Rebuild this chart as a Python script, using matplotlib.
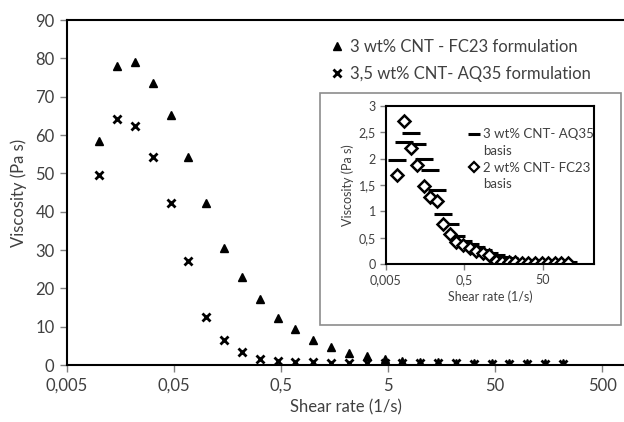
import matplotlib
matplotlib.use("Agg")
import matplotlib.pyplot as plt
from matplotlib.patches import Rectangle
from matplotlib.lines import Line2D

plt.rcParams['font.family'] = ['Lato', 'DejaVu Sans']

# shear rate (1/s), same for every series
shear = [0.01, 0.0147, 0.0215, 0.0316, 0.0464, 0.0681, 0.1, 0.147, 0.215, 0.316,
         0.464, 0.681, 1.0, 1.47, 2.15, 3.16, 4.64, 6.81, 10.0, 14.7,
         21.5, 31.6, 46.4, 68.1, 100.0, 147.0, 215.0]

# main chart: viscosity (Pa s)
fc23_3wt = [58.5, 78.0, 79.1, 73.6, 65.3, 54.4, 42.2, 30.5, 23.0, 17.1,
            12.3, 9.3, 6.5, 4.8, 3.2, 2.4, 1.7, 1.0, 0.8, 0.7,
            0.6, 0.6, 0.5, 0.5, 0.4, 0.4, 0.4]
aq35_35wt = [49.7, 64.3, 62.4, 54.2, 42.2, 27.2, 12.6, 6.6, 3.4, 1.7,
             1.1, 0.9, 0.7, 0.6, 0.6, 0.5, 0.5, 0.5, 0.4, 0.4,
             0.4, 0.3, 0.3, 0.3, 0.3, 0.2, 0.2]

# inset: viscosity (Pa s)
aq35_3wt = [1.98, 2.32, 2.49, 2.28, 2.0, 1.78, 1.4, 0.95, 0.76, 0.53,
            0.45, 0.38, 0.32, 0.27, 0.22, 0.17, 0.13, 0.11, 0.09, 0.08,
            0.07, 0.06, 0.05, 0.05, 0.04, 0.04, 0.04]
fc23_2wt = [1.68, 2.72, 2.2, 1.87, 1.48, 1.27, 1.19, 0.76, 0.57, 0.42,
            0.37, 0.31, 0.26, 0.22, 0.17, 0.06, 0.05, 0.04, 0.04, 0.03,
            0.03, 0.03, 0.03, 0.03, 0.03, 0.03, 0.03]

main_xticks = [0.005, 0.05, 0.5, 5, 50, 500]
main_xlabels = ['0,005', '0,05', '0,5', '5', '50', '500']
main_yticks = [0, 10, 20, 30, 40, 50, 60, 70, 80, 90]
inset_xticks = [0.005, 0.5, 50]
inset_xlabels = ['0,005', '0,5', '50']
inset_yticks = [0, 0.5, 1, 1.5, 2, 2.5, 3]
inset_ylabels = ['0', '0,5', '1', '1,5', '2', '2,5', '3']

txt = '#404040'

fig = plt.figure(figsize=(6.24, 4.22), dpi=100)
ax = fig.add_axes([0.1074, 0.135, 0.8926, 0.8175])

ax.plot(shear, fc23_3wt, linestyle='none', marker='^', markersize=5.5,
        color='black', label='3 wt% CNT - FC23 formulation')
ax.plot(shear, aq35_35wt, linestyle='none', marker='x', markersize=6,
        markeredgewidth=2, color='black', label='3,5 wt% CNT- AQ35 formulation')

ax.set_xscale('log')
ax.set_xlim(0.005, 800)
ax.set_ylim(0, 90)
ax.set_xticks(main_xticks, main_xlabels)
ax.minorticks_off()
ax.set_yticks(main_yticks)
ax.spines['right'].set_visible(False)
for s in ['left', 'bottom', 'top']:
    ax.spines[s].set_linewidth(1.5)
ax.tick_params(direction='out', length=5, width=1, color='#808080',
               labelsize=12, labelcolor=txt, pad=4)
ax.set_xlabel('Shear rate (1/s)', fontsize=12, color=txt, labelpad=4)
ax.set_ylabel('Viscosity (Pa s)', fontsize=12, color=txt, labelpad=6)
ax.legend(loc='upper left', bbox_to_anchor=(0.46, 0.965), frameon=False,
          fontsize=12, labelcolor=txt, handlelength=0.8, handletextpad=0.4,
          labelspacing=0.65, borderaxespad=0)

# inset frame
fig.patches.append(Rectangle((320 / 624, 1 - 325 / 422), 301 / 624, 232 / 422,
                             transform=fig.transFigure, facecolor='white',
                             edgecolor='#8c8c8c', linewidth=1.2, zorder=2))

ins = fig.add_axes([0.618, 0.3737, 0.334, 0.3758], zorder=3)
ins.plot(shear, aq35_3wt, linestyle='none', marker='_', markersize=13,
         markeredgewidth=2.2, color='black')
ins.plot(shear, fc23_2wt, linestyle='none', marker='D', markersize=6,
         markerfacecolor='white', markeredgecolor='black', markeredgewidth=1.8)
ins.set_xscale('log')
ins.set_xlim(0.005, 1000)
ins.set_ylim(0, 3)
ins.set_xticks(inset_xticks, inset_xlabels)
ins.minorticks_off()
ins.set_yticks(inset_yticks, inset_ylabels)
for s in ins.spines.values():
    s.set_linewidth(1.5)
ins.tick_params(direction='out', length=4, width=1, color='#808080',
                labelsize=9, labelcolor=txt, pad=3)
ins.set_xlabel('Shear rate (1/s)', fontsize=9, color=txt, labelpad=3)
ins.set_ylabel('Viscosity (Pa s)', fontsize=9, color=txt, labelpad=3)

# legend with the wrapped "basis" as its own row so the marker sits on line one
h_dash = Line2D([], [], linestyle='none', marker='_', markersize=8,
                markeredgewidth=2.2, color='black')
h_diam = Line2D([], [], linestyle='none', marker='D', markersize=5,
                markerfacecolor='white', markeredgecolor='black', markeredgewidth=1.6)
h_none = Line2D([], [], linestyle='none')
ins.legend([h_dash, h_none, h_diam, h_none],
           ['3 wt% CNT- AQ35', 'basis', '2 wt% CNT- FC23', 'basis'],
           loc='upper left', bbox_to_anchor=(0.375, 0.89), frameon=False,
           fontsize=9.5, labelcolor=txt, handlelength=0.7, handletextpad=0.35,
           labelspacing=0.35, borderaxespad=0)

fig.savefig('out.png', dpi=100)
